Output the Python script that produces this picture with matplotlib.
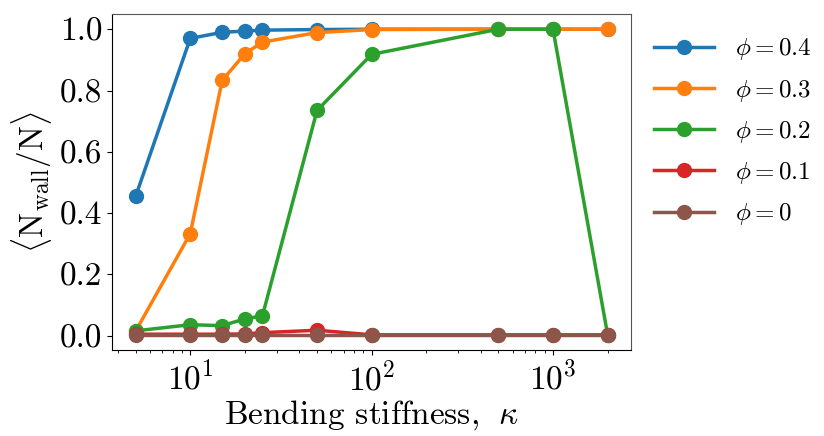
import numpy as np
import matplotlib
matplotlib.use("Agg")
import matplotlib.pyplot as plt

plt.rcParams['font.family'] = 'serif'
plt.rcParams['font.serif'] = ['cmr10']
plt.rcParams['mathtext.fontset'] = 'cm'
plt.rcParams['axes.formatter.use_mathtext'] = True
plt.rcParams['axes.unicode_minus'] = False

# bending stiffness values
kappa = [5, 10, 15, 20, 25, 50, 100, 500, 1000, 2000]

# fraction at the wall, one list per phi
frac_04 = [0.455, 0.970, 0.990, 0.994, 0.997, 0.999, 1.0, 1.0, 1.0, 1.0]
frac_03 = [0.015, 0.333, 0.833, 0.920, 0.958, 0.989, 0.999, 1.0, 1.0, 1.0]
frac_02 = [0.016, 0.036, 0.033, 0.055, 0.065, 0.735, 0.918, 1.0, 1.0, 0.004]
frac_01 = [0.005, 0.005, 0.005, 0.006, 0.010, 0.018, 0.003, 0.003, 0.003, 0.003]
frac_00 = [0.003, 0.003, 0.003, 0.003, 0.003, 0.003, 0.003, 0.003, 0.003, 0.003]

series = [frac_04, frac_03, frac_02, frac_01, frac_00]
labels = [r'$\phi = 0.4$', r'$\phi = 0.3$', r'$\phi = 0.2$',
          r'$\phi = 0.1$', r'$\phi = 0$']
colors = ['#1f77b4', '#ff7f0e', '#2ca02c', '#d62728', '#8c564b']

fig = plt.figure(figsize=(8.24, 4.36), dpi=100)
ax = fig.add_axes([0.136, 0.197, 0.630, 0.771])

for y, lab, c in zip(series, labels, colors):
    ax.plot(kappa, y, '-o', color=c, lw=2.5, ms=10, label=lab)

ax.set_xscale('log')
ax.set_yticks([0.0, 0.2, 0.4, 0.6, 0.8, 1.0])
ax.set_yticklabels(['0.0', '0.2', '0.4', '0.6', '0.8', '1.0'])
ax.tick_params(labelsize=24)
ax.set_xlabel(r'Bending stiffness, $\;\kappa$', fontsize=24, labelpad=2)
ax.set_ylabel(r'$\langle \mathrm{N}_{\mathrm{wall}}/\mathrm{N} \rangle$', fontsize=24, labelpad=4)
ax.spines['top'].set_color('#555555')
ax.spines['right'].set_color('#555555')

ax.legend(loc='upper left', bbox_to_anchor=(1.0, 1.0), frameon=False,
          fontsize=18, handlelength=2.4, handletextpad=0.85, labelspacing=0.61)

fig.savefig('out.png', dpi=100)
